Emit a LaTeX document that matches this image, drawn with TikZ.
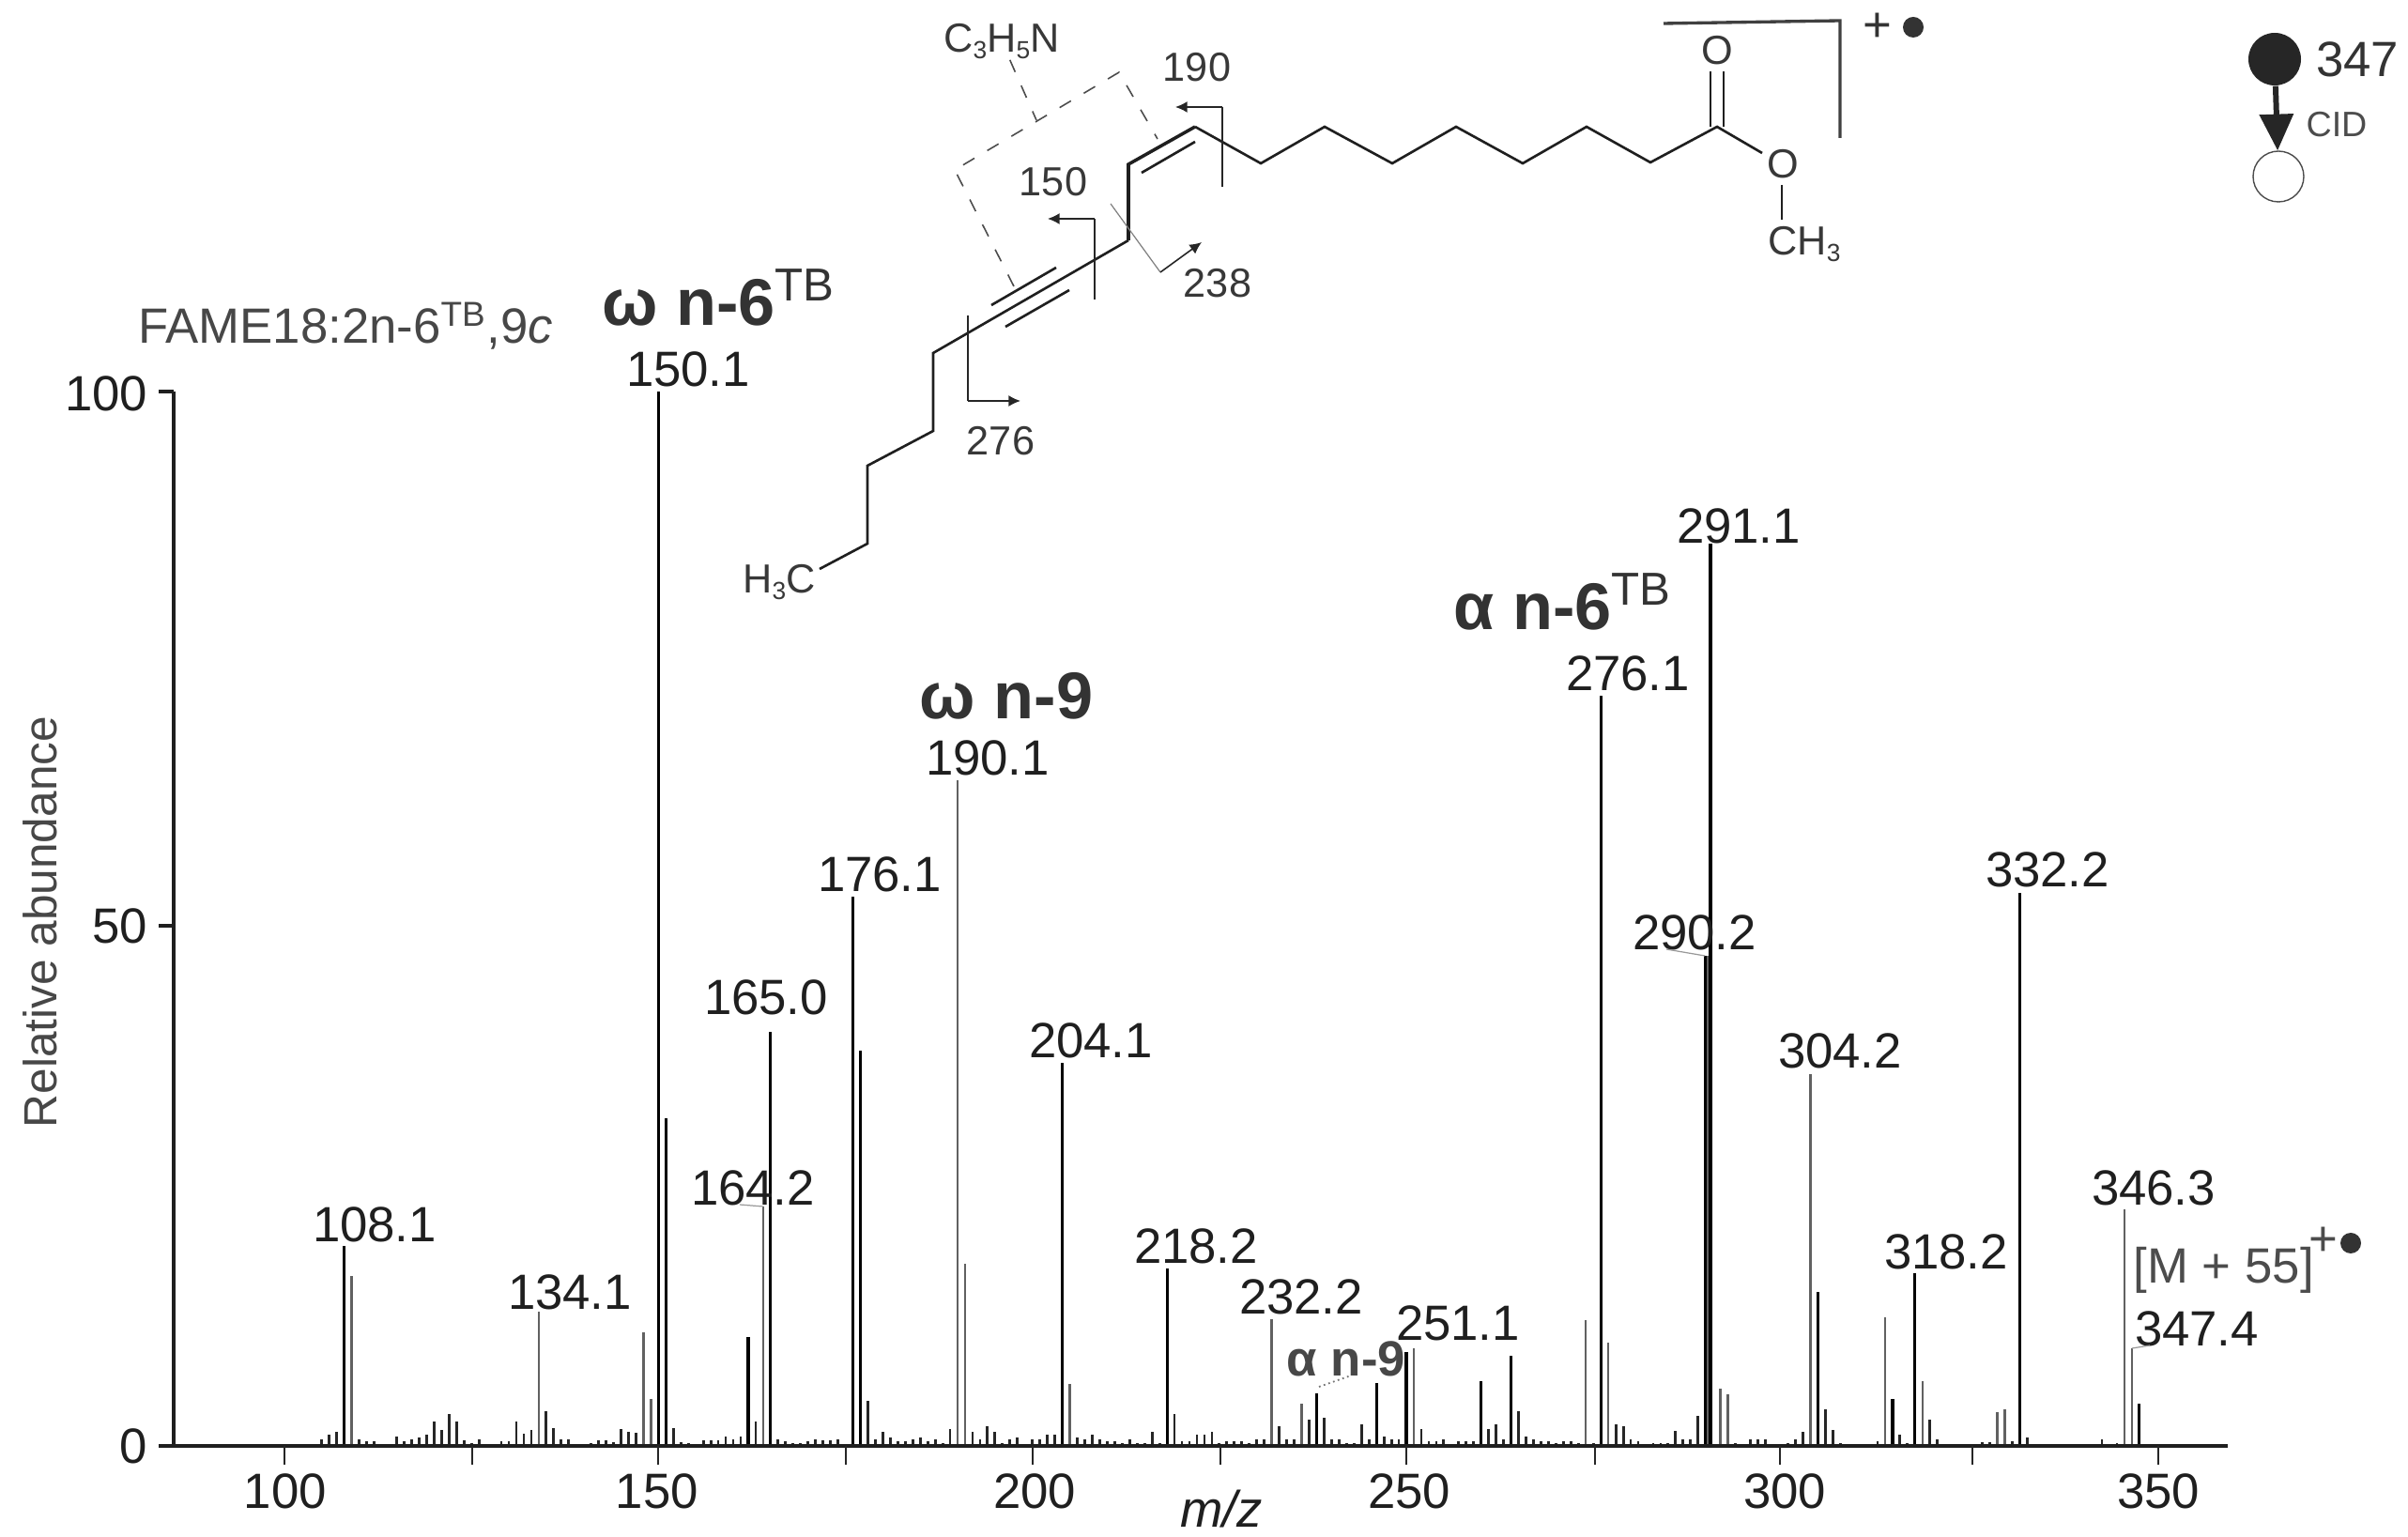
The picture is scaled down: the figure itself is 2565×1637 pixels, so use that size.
\documentclass[tikz,border=0pt]{standalone}
\usepackage{fontspec}
\setmainfont{Liberation Sans}
\usepackage{tikz}
\usetikzlibrary{arrows.meta}
\colorlet{inkdark}{black!88}
\colorlet{inkgray}{black!72}
\newcommand{\chemsub}[1]{\raisebox{-2.2pt}{\fontsize{7.5}{8}\selectfont #1}}
\tikzset{
  axisline/.style={inkdark,line width=0.95pt},
  ticklabel/.style={inkdark,font=\fontsize{15}{18}\selectfont},
  peaklabel/.style={inkdark,font=\fontsize{15}{18}\selectfont,inner sep=0pt},
  peakdark/.style={black,line width=0.9pt},
  peakgray/.style={black!62,line width=0.7pt},
  peaksmall/.style={black!85,line width=0.8pt},
  ionlabel/.style={black!80,font=\bfseries\fontsize{20}{23}\selectfont,inner sep=0pt},
  bond/.style={black!88,line width=0.75pt,line join=miter},
  cutline/.style={black!85,line width=0.45pt},
  cutarrow/.style={black!85,line width=0.45pt,-{Latex[length=3.6pt,width=3.4pt]}},
  chemlabel/.style={black!78,font=\fontsize{12.3}{15}\selectfont,inner sep=0pt},
  chemdash/.style={black!70,line width=0.45pt,dash pattern=on 4pt off 4.5pt},
  leader/.style={black!40,line width=0.35pt}
}
\begin{document}
\begin{tikzpicture}[x=0.01cm,y=-0.01cm]
\useasboundingbox (0,0) rectangle (2565,1637);
\foreach \mz/\h in {105/7,106/12,107/15,110/7,111/5,112/5,113/2,114/2,115/10,116/5,117/7,118/9,119/12,120/26,121/17,122/34,123/26,124/6,125/3,126/7,127/1,128/1,129/5,130/5,131/26,132/13,133/17,135/37,136/19,137/7,138/7,139/2,140/2,141/3,142/6,143/6,144/4,145/18,146/15,147/14,152/19,153/4,154/3,155/2,156/6,157/6,158/6,159/10,160/7,161/10,163/26,166/7,167/5,168/3,169/3,170/5,171/7,172/6,173/6,174/7,175/2,178/48,179/7,180/15,181/9,182/5,183/5,184/7,185/9,186/5,187/7,188/3,189/18,192/15,193/7,194/21,195/15,196/3,197/7,198/9,199/2,200/7,201/7,202/12,203/12,206/9,207/7,208/12,209/7,210/5,211/5,212/3,213/7,214/3,215/3,216/15,217/3,219/34,220/5,221/5,222/12,223/12,224/15,225/3,226/5,227/5,228/5,229/3,230/7,231/7,233/21,234/7,235/7,237/28,239/30,240/7,241/7,242/3,243/3,244/23,245/7,247/10,248/7,249/7,252/18,253/5,254/5,255/7,256/2,257/5,258/5,259/5,261/18,262/23,263/7,265/37,266/10,267/7,268/5,269/5,270/3,271/5,272/5,273/3,275/3,278/23,279/21,280/7,281/5,282/2,283/3,284/3,285/3,286/16,287/7,288/7,289/32,294/3,295/2,296/7,297/7,298/7,299/1,300/1,301/3,302/7,303/15,306/39,307/17,308/3,313/5,316/12,317/3,320/28,321/7,327/4,328/4,331/5,333/9,343/7,345/3}
  \draw[peaksmall] ({303+7.967*(\mz-100)},1540) -- ++(0,-\h);
\foreach \mz/\h in {109/181,134/143,148/121,149/50,164/255,190/709,191/194,205/66,232/135,236/45,251/104,274/134,277/110,290.35/522,292/61,293/55,304/396,314/137,319/69,329/36,330/39,346/252,347/104}
  \draw[peakgray] ({303+7.967*(\mz-100)},1540) -- ++(0,-\h);
\foreach \mz/\h in {108/213,150/1123,151/349,162/116,165/441,176/585,177/421,204/408,218/189,238/56,246/67,250/100,260/69,264/96,276/799,290/522,290.65/961,305/164,315/50,318/184,332/589,348/45}
  \draw[peakdark] ({303+7.967*(\mz-100)},1540) -- ++(0,-\h);
\draw[axisline] (185,417) -- (185,1540);
\draw[axisline,line width=1.15pt] (169,1540) -- (2373,1540);
\foreach \py in {417,986}
  \draw[axisline] (169,\py) -- (185,\py);
\foreach \px in {303,503,701,901,1100,1300,1498,1699,1896,2101,2299}
  \draw[black!85,line width=0.55pt] (\px,1540) -- ++(0,20);
\foreach \px/\lab in {304/100,700/150,1102/200,1501/250,1901/300,2299/350}
  \node[ticklabel] (tick\lab) at (\px,1588) {\lab};
\node[ticklabel,anchor=east,inner sep=0pt] (ylab0) at (158,1540) {0};
\node[ticklabel,anchor=east,inner sep=0pt] (ylab50) at (158,986) {50};
\node[ticklabel,anchor=east,inner sep=0pt] (ylab100) at (158,419) {100};
\node[inkgray,rotate=90,font=\fontsize{14.1}{17}\selectfont] (yaxis) at (43,982) {Relative abundance};
\node[inkdark,font=\itshape\fontsize{15.5}{18}\selectfont] (xaxis) at (1301,1607) {m/z};
\node[inkgray,font=\fontsize{15}{18}\selectfont] (title) at (368,347) {FAME18:2n-6\textsuperscript{TB},9\textit{c}};
\foreach \px/\py/\lab in {399/1304/108.1,607/1376/134.1,733/393/150.1,802/1265/164.2,816/1062/165.0,937/931/176.1,1052/807/190.1,1162/1108/204.1,1274/1327/218.2,1386/1381/232.2,1553/1409/251.1,1734/717/276.1,1805/993/290.2,1852/560/291.1,1960/1119/304.2,2073/1333/318.2,2181/926/332.2,2294/1265/346.3,2340/1415/347.4}
  \node[peaklabel] (peak\lab) at (\px,\py) {\lab};
\node[ionlabel] (omegasix) at (766,317) {ω n-6\textsuperscript{\mdseries TB}};
\node[ionlabel] (omeganine) at (1072,741) {ω n-9};
\node[ionlabel] (alphasix) at (1665,641) {α n-6\textsuperscript{\mdseries TB}};
\node[black!72,font=\bfseries\fontsize{15}{18}\selectfont,inner sep=0pt] (alphanine) at (1434,1447) {α n-9};
\draw[black!55,densely dotted,line width=0.5pt] (1405,1477) -- (1439,1465);
\draw[leader] (788,1283) -- (813,1285);
\draw[leader] (1775,1011) -- (1816,1018);
\draw[leader] (2290,1433) -- (2271,1436);
\node[black!70,anchor=west,font=\fontsize{15}{18}\selectfont,inner sep=0pt] (molion) at (2272,1353) {[M + 55]};
\node[black!70,font=\fontsize{15}{18}\selectfont,inner sep=0pt] (molplus) at (2475,1322) {+};
\fill[black!80] (2504,1324) circle (11);
\node[chemlabel] (hthreec) at (830,620) {H\chemsub{3}C};
\node[chemlabel] (cthree) at (1067,44) {C\chemsub{3}H\chemsub{5}N};
\node[chemlabel] (oxo) at (1829,54) {O};
\node[chemlabel] (oxy) at (1899,175) {O};
\node[chemlabel] (methyl) at (1922,260) {CH\chemsub{3}};
\node[chemlabel] (lab190) at (1275,72) {190};
\node[chemlabel] (lab150) at (1122,194) {150};
\node[chemlabel] (lab238) at (1297,302) {238};
\node[chemlabel] (lab276) at (1066,470) {276};
\draw[bond] (873,606) -- (924,579) -- (924,496) -- (994,459) -- (994,376) -- (1202,256);
\draw[bond,line width=1pt] (1202,256) -- (1202,175) -- (1273,135);
\draw[bond] (1273,135) -- (1343,174) -- (1411,135) -- (1483,174) -- (1551,135) -- (1622,174) -- (1690,135) -- (1758,173) -- (1829,135) -- (1877,163);
\draw[bond] (1216,184) -- (1273,151);
\draw[bond] (1056,325) -- (1125,285);
\draw[bond] (1071,348) -- (1139,309);
\draw[bond] (1822,135) -- (1822,76);
\draw[bond] (1836,135) -- (1836,76);
\draw[bond] (1898,197) -- (1898,234);
\draw[black!75,line width=0.95pt] (1772,25) -- (1960,22) -- (1960,147);
\node[black!80,font=\fontsize{15}{18}\selectfont,inner sep=0pt] (ionplus) at (2000,29) {+};
\fill[black!80] (2038,29) circle (11);
\draw[cutline] (1302,199) -- (1302,114);
\draw[cutarrow] (1302,114) -- (1252,114);
\draw[cutline] (1166,319) -- (1166,233);
\draw[cutarrow] (1166,233) -- (1116,233);
\draw[black!50,line width=0.35pt] (1183,217) -- (1236,290);
\draw[cutarrow] (1236,290) -- (1280,258);
\draw[cutline] (1031,336) -- (1031,427);
\draw[cutarrow] (1031,427) -- (1087,427);
\draw[chemdash] (1080,305) -- (1017,181) -- (1192,77) -- (1233,148);
\draw[chemdash] (cthree) -- (1104,128);
\node[fill=black!85,circle,minimum size=56*0.01cm,inner sep=0pt] (parent) at (2423,63) {};
\node[draw=black!70,line width=0.4pt,fill=white,circle,minimum size=54*0.01cm,inner sep=0pt] (product) at (2427,188) {};
\draw[black!85,line width=1.7pt,-{Triangle[length=11pt,width=10pt]}] (parent) -- (product);
\node[black!80,font=\fontsize{15}{18}\selectfont,inner sep=0pt] (parentlab) at (2511,63) {347};
\node[black!70,font=\fontsize{10.7}{13}\selectfont,inner sep=0pt] (cid) at (2489,133) {CID};
\end{tikzpicture}
\end{document}
